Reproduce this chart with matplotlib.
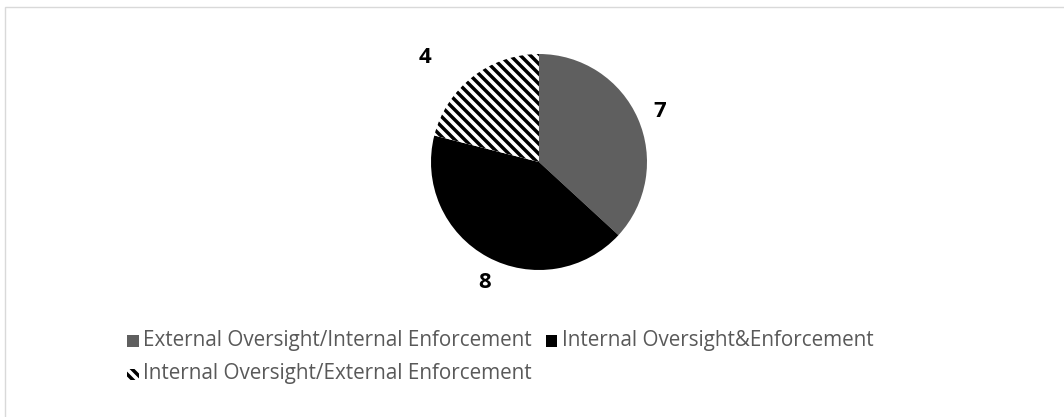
import matplotlib
matplotlib.use("Agg")
import matplotlib.pyplot as plt
from matplotlib.patches import Rectangle
from matplotlib.collections import LineCollection
import numpy as np

# Cases by oversight / enforcement arrangement
categories = [
    "External Oversight/Internal Enforcement",
    "Internal Oversight&Enforcement",
    "Internal Oversight/External Enforcement",
]
counts = [7, 8, 4]
face_colors = ["#5f5f5f", "#000000", "#ffffff"]
striped = [False, False, True]

W, H = 1064, 417
DPI = 100
plt.rcParams["font.family"] = ["Open Sans", "DejaVu Sans"]

fig = plt.figure(figsize=(W / DPI, H / DPI), dpi=DPI)
fig.patch.set_facecolor("white")

# Chart frame
fig.patches.append(Rectangle((5 / W, -0.05), (W + 20) / W, (H - 7) / H + 0.05,
                             transform=fig.transFigure, fill=False,
                             edgecolor="#d9d9d9", linewidth=1.0))


def add_stripes(target_ax, patch, step, lw, span=2.0):
    """Black diagonal (top-left to bottom-right) stripes clipped to a patch."""
    offs = np.arange(-2 * span, 2 * span, step)
    segs = [[(-span, c + span), (span, c - span)] for c in offs]
    lc = LineCollection(segs, colors="black", linewidths=lw)
    target_ax.add_collection(lc)
    lc.set_clip_path(patch)
    return lc


# Pie axes: centre (539, 162) px, radius 108 px
cx, cy, r = 539, 162, 108
ax = fig.add_axes([(cx - r) / W, (H - cy - r) / H, 2 * r / W, 2 * r / H])
wedges, _ = ax.pie(counts, colors=face_colors, startangle=90,
                   counterclock=False, radius=1.0,
                   wedgeprops=dict(linewidth=0, edgecolor="none"))
for w, s in zip(wedges, striped):
    if s:
        add_stripes(ax, w, step=10.0 / r, lw=2.5)
ax.set_xlim(-1, 1)
ax.set_ylim(-1, 1)
ax.set_aspect("equal")
ax.axis("off")

# Value labels placed outside each slice
label_dist = [1.21, 1.23, 1.435]
label_shift = [-1.0, 4.0, 9.5]
total = float(sum(counts))
start = 90.0
for val, d, s in zip(counts, label_dist, label_shift):
    sweep = 360.0 * val / total
    mid = np.deg2rad(start - sweep / 2 + s)
    ax.text(d * np.cos(mid), d * np.sin(mid), str(val),
            ha="center", va="center", fontsize=16, fontweight="bold",
            color="black", clip_on=False)
    start -= sweep

# Legend, laid out in two rows
lax = fig.add_axes([0, 0, 1, 1])
lax.set_xlim(0, W)
lax.set_ylim(H, 0)
lax.axis("off")
renderer = fig.canvas.get_renderer()


def legend_entry(idx, x, y):
    sq = Rectangle((x, y - 5.5), 11.5, 11.5, facecolor=face_colors[idx],
                   edgecolor="none", linewidth=0)
    lax.add_patch(sq)
    if striped[idx]:
        segs = [[(x - 20 + c, y - 20), (x + 20 + c, y + 20)]
                for c in np.arange(-20, 20, 10.0)]
        lc = LineCollection(segs, colors="black", linewidths=2.5)
        lax.add_collection(lc)
        lc.set_clip_path(sq)
    t = lax.text(x + 16, y, categories[idx], ha="left", va="center",
                 fontsize=14.9, color="#595959")
    return t


t0 = legend_entry(0, 127, 340.5)
bb = t0.get_window_extent(renderer)
legend_entry(1, bb.x1 + 14, 340.5)
legend_entry(2, 127, 374)

fig.savefig("out.png", dpi=DPI, facecolor="white")
